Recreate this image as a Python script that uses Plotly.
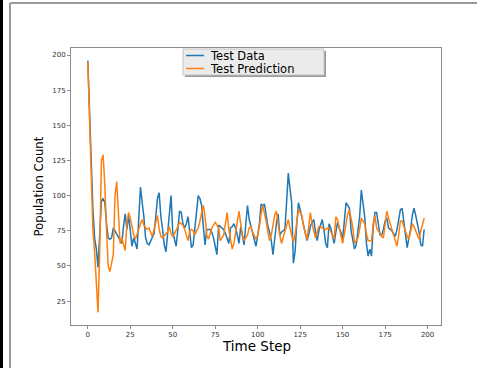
import plotly.graph_objects as go

time_step = list(range(199))

test_data = [196, 160, 120, 90, 70, 62, 49, 70, 96, 98,
             95, 80, 70, 69, 70, 77, 75, 73, 71, 68,
             66, 78, 87, 76, 86, 75, 64, 70, 66, 62,
             84, 106, 95, 85, 70, 66, 65, 68, 70, 73,
             85, 98, 102, 85, 76, 65, 60, 74, 90, 100,
             74, 68, 64, 76, 89, 88, 80, 77, 80, 85,
             72, 63, 65, 76, 88, 100, 98, 93, 78, 65,
             76, 76, 76, 74, 70, 64, 58, 79, 78, 77,
             76, 73, 70, 66, 77, 78, 80, 77, 72, 66,
             78, 72, 65, 80, 93, 83, 78, 74, 68, 64,
             72, 80, 94, 93, 94, 84, 78, 74, 68, 58,
             72, 80, 87, 72, 74, 75, 76, 95, 116, 105,
             95, 52, 60, 80, 95, 90, 85, 79, 75, 68,
             72, 78, 81, 83, 74, 68, 75, 80, 83, 76,
             66, 63, 80, 77, 72, 66, 74, 81, 77, 74,
             69, 82, 95, 93, 91, 75, 67, 62, 65, 75,
             85, 104, 95, 85, 66, 57, 62, 57, 78, 88,
             88, 80, 72, 72, 76, 82, 84, 77, 76, 75,
             73, 71, 76, 82, 90, 91, 82, 72, 63, 70,
             76, 86, 91, 86, 80, 74, 65, 64, 76]

test_prediction = [195, 150, 110, 75, 60, 35, 17, 60, 125, 129,
                   108, 75, 50, 46, 52, 58, 100, 110, 88, 66,
                   70, 65, 61, 80, 88, 84, 78, 72, 69, 73,
                   77, 80, 83, 79, 77, 76, 77, 74, 71, 76,
                   82, 86, 76, 71, 70, 72, 73, 74, 78, 73,
                   71, 73, 75, 78, 81, 80, 79, 76, 72, 68,
                   75, 76, 75, 72, 75, 77, 82, 88, 93, 85,
                   72, 69, 73, 77, 79, 81, 79, 77, 68, 70,
                   72, 80, 88, 76, 68, 62, 66, 74, 82, 89,
                   80, 72, 68, 70, 72, 77, 78, 74, 71, 69,
                   72, 78, 87, 93, 87, 82, 74, 68, 72, 78,
                   86, 89, 79, 72, 66, 70, 75, 79, 83, 77,
                   71, 67, 72, 81, 90, 88, 86, 78, 74, 69,
                   78, 88, 80, 74, 70, 74, 78, 78, 77, 76,
                   76, 77, 77, 75, 72, 69, 85, 83, 77, 72,
                   66, 73, 82, 87, 90, 84, 77, 66, 68, 70,
                   76, 84, 82, 80, 73, 68, 68, 68, 80, 86,
                   77, 75, 72, 71, 70, 80, 89, 84, 80, 76,
                   72, 68, 64, 72, 82, 82, 78, 74, 71, 69,
                   76, 80, 78, 75, 72, 69, 75, 80, 84]

x_ticks = [0, 25, 50, 75, 100, 125, 150, 175, 200]
y_ticks = [25, 50, 75, 100, 125, 150, 175, 200]
series_names = ["Test Data", "Test Prediction"]
colors = ["#1f77b4", "#ff7f0e"]

W, H = 477, 368
L, R, T, B = 71, 36, 48, 43
PW, PH = W - L - R, H - T - B


def xp(px):
    return (px - L) / PW


def yp(py):
    return (H - B - py) / PH


fig = go.Figure()
for name, vals, col in zip(series_names, [test_data, test_prediction], colors):
    fig.add_trace(go.Scatter(x=time_step, y=vals, mode="lines", name=name,
                             line=dict(color=col, width=1.5), showlegend=False))

axis_common = dict(showgrid=False, zeroline=False, showline=True, mirror=True,
                   linecolor="#8c8c8c", linewidth=1, ticks="outside", ticklen=3,
                   tickcolor="#8c8c8c", tickfont=dict(family="DejaVu Sans", size=7, color="#333"))

fig.update_layout(
    width=W, height=H,
    margin=dict(l=L, r=R, t=T, b=B),
    paper_bgcolor="white", plot_bgcolor="white",
    xaxis=dict(range=[-9.9, 207.9], tickvals=x_ticks, **axis_common),
    yaxis=dict(range=[8, 205], tickvals=y_ticks, **axis_common),
    showlegend=False,
)

shapes = [
    # figure frame decorations
    dict(type="rect", xref="paper", yref="paper", x0=xp(0), x1=xp(3), y0=yp(368), y1=yp(0),
         fillcolor="black", line=dict(width=0), layer="above"),
    dict(type="line", xref="paper", yref="paper", x0=xp(10), x1=xp(10), y0=yp(368), y1=yp(3),
         line=dict(color="#9a9a9a", width=2)),
    dict(type="line", xref="paper", yref="paper", x0=xp(10), x1=xp(477), y0=yp(3), y1=yp(3),
         line=dict(color="#9a9a9a", width=2)),
    # legend shadow and box
    dict(type="rect", xref="paper", yref="paper", x0=xp(185), x1=xp(326), y0=yp(77), y1=yp(51),
         fillcolor="#9a9a9a", line=dict(width=0), layer="above"),
    dict(type="rect", xref="paper", yref="paper", x0=xp(183), x1=xp(324), y0=yp(75), y1=yp(49),
         fillcolor="#ebebeb", line=dict(color="#c4c4c4", width=1), layer="above"),
]
legend_y = [55.5, 68.5]
for name, col, ly in zip(series_names, colors, legend_y):
    shapes.append(dict(type="line", xref="paper", yref="paper", x0=xp(186), x1=xp(204),
                       y0=yp(ly), y1=yp(ly), line=dict(color=col, width=1.5), layer="above"))
fig.update_layout(shapes=shapes)

annotations = []
for name, ly in zip(series_names, legend_y):
    annotations.append(dict(text=name, xref="paper", yref="paper", x=xp(208), y=yp(ly),
                            xanchor="left", yanchor="middle", showarrow=False,
                            font=dict(family="DejaVu Sans", size=11.5, color="black")))
annotations.append(dict(text="Time Step", xref="paper", yref="paper", x=xp(256), y=yp(336),
                        xanchor="center", yanchor="top", showarrow=False,
                        font=dict(family="DejaVu Sans", size=13.5, color="black")))
annotations.append(dict(text="Population Count", xref="paper", yref="paper", x=xp(38), y=yp(186.5),
                        xanchor="center", yanchor="middle", showarrow=False, textangle=-90,
                        font=dict(family="Liberation Sans Narrow, DejaVu Sans Condensed, sans-serif",
                                  size=13, color="black")))
fig.update_layout(annotations=annotations)

fig.write_html("out.html", config={"displayModeBar": False},
               post_script="document.body.style.margin='0px';document.body.style.overflow='hidden';")
